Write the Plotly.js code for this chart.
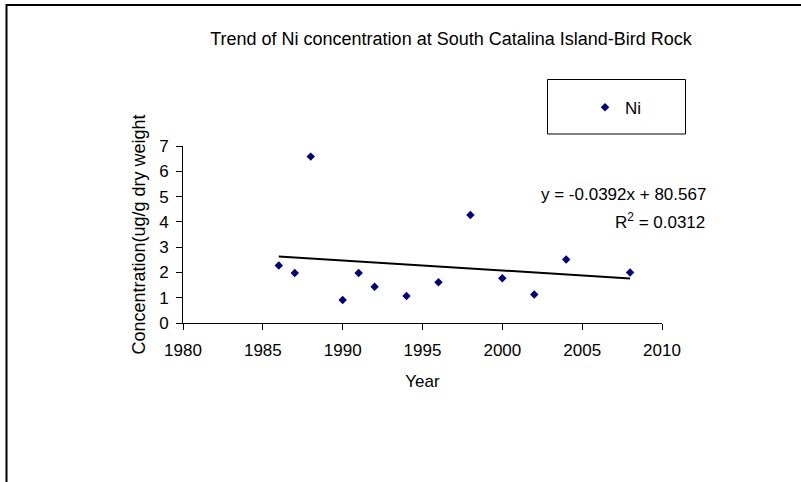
<!DOCTYPE html>
<html>
<head>
<meta charset="utf-8">
<script src="https://cdn.plot.ly/plotly-3.0.1.min.js"></script>
<style>
  html, body { margin: 0; padding: 0; background: #fff; }
  #chart { width: 801px; height: 482px; }
</style>
</head>
<body>
<div id="chart"></div>
<script>
// Data
var years = [1986, 1987, 1988, 1990, 1991, 1992, 1994, 1996, 1998, 2000, 2002, 2004, 2008];
var niValues = [2.27, 1.98, 6.58, 0.91, 1.98, 1.43, 1.07, 1.61, 4.27, 1.77, 1.13, 2.51, 2.00];
var xTicks = [1980, 1985, 1990, 1995, 2000, 2005, 2010];
var yTicks = [0, 1, 2, 3, 4, 5, 6, 7];
var trendLabel = "y = -0.0392x + 80.567";
var r2Label = "R<sup>2</sup> = 0.0312";

// Least-squares linear trendline from the data
var n = years.length, sx = 0, sy = 0, sxx = 0, sxy = 0;
for (var i = 0; i < n; i++) {
  sx += years[i]; sy += niValues[i];
  sxx += years[i] * years[i]; sxy += years[i] * niValues[i];
}
var mx = sx / n, my = sy / n;
var slope = (sxy - n * mx * my) / (sxx - n * mx * mx);
var intercept = my - slope * mx;
var tx = [years[0], years[n - 1]];
var ty = tx.map(function (x) { return slope * x + intercept; });

var W = 801, H = 482;
var M = { l: 183, r: 139, t: 146, b: 159 };
var pw = W - M.l - M.r, ph = H - M.t - M.b;
function px(x) { return (x - M.l) / pw; }
function py(y) { return (H - M.b - y) / ph; }

var font = "Liberation Sans, Arial, sans-serif";

var traces = [
  {
    x: years, y: niValues, type: "scatter", mode: "markers", name: "Ni",
    marker: { symbol: "diamond", size: 6.5, color: "#000080" },
    cliponaxis: false
  },
  {
    x: tx, y: ty, type: "scatter", mode: "lines", name: "Linear (Ni)",
    line: { color: "#000000", width: 2 }, showlegend: false, hoverinfo: "skip"
  }
];

var layout = {
  width: W, height: H,
  margin: M,
  paper_bgcolor: "#ffffff", plot_bgcolor: "#ffffff",
  font: { family: font, size: 17, color: "#000000" },
  title: {
    text: "Trend of Ni concentration at South Catalina Island-Bird Rock",
    font: { family: font, size: 18, color: "#000000" },
    x: px(451), xanchor: "center", xref: "paper",
    y: 1 - 39 / H, yanchor: "middle", yref: "container"
  },
  xaxis: {
    range: [1980, 2010], tickvals: xTicks, ticktext: xTicks.map(String),
    showgrid: false, zeroline: false, showline: true, linecolor: "#000000", linewidth: 1,
    ticks: "outside", ticklen: 6, tickcolor: "#000000", tickwidth: 1,
    tickfont: { family: font, size: 17, color: "#000000" },
    ticklabelstandoff: 6,
    title: { text: "Year", font: { family: font, size: 17, color: "#000000" }, standoff: 15 },
    fixedrange: true
  },
  yaxis: {
    range: [0, 7], tickvals: yTicks,
    showgrid: false, zeroline: false, showline: true, linecolor: "#000000", linewidth: 1,
    ticks: "outside", ticklen: 6, tickcolor: "#000000", tickwidth: 1,
    tickfont: { family: font, size: 17, color: "#000000" },
    ticklabelstandoff: 4,
    title: { text: "Concentration(ug/g dry weight", font: { family: font, size: 18, color: "#000000" }, standoff: 8 },
    fixedrange: true
  },
  showlegend: true,
  legend: {
    x: px(585), y: py(107.7), xanchor: "left", yanchor: "middle",
    bgcolor: "rgba(0,0,0,0)", borderwidth: 0,
    font: { family: font, size: 17, color: "#000000" }
  },
  shapes: [
    { type: "rect", xref: "paper", yref: "paper",
      x0: px(6.5), x1: px(820), y0: py(5), y1: py(500),
      line: { color: "#000000", width: 2 }, fillcolor: "rgba(0,0,0,0)", layer: "below" },
    { type: "rect", xref: "paper", yref: "paper",
      x0: px(547.5), x1: px(685.5), y0: py(79.5), y1: py(134),
      line: { color: "#000000", width: 1 }, fillcolor: "rgba(0,0,0,0)" }
  ],
  annotations: [
    { xref: "paper", yref: "paper", x: px(708), y: py(194), xanchor: "right", yanchor: "middle",
      text: trendLabel, showarrow: false, font: { family: font, size: 17, color: "#000000" } },
    { xref: "paper", yref: "paper", x: px(707), y: py(221), xanchor: "right", yanchor: "middle",
      text: r2Label, showarrow: false, font: { family: font, size: 17, color: "#000000" } }
  ]
};

Plotly.newPlot("chart", traces, layout, { displayModeBar: false, staticPlot: true });
</script>
</body>
</html>
